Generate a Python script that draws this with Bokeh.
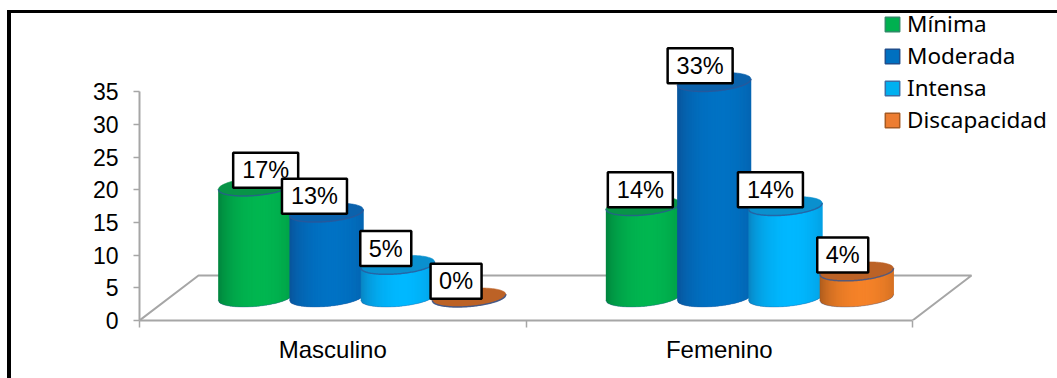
import numpy as np
from bokeh.core.properties import value
from bokeh.embed import file_html
from bokeh.models import (ColumnDataSource, FixedTicker, InlineStyleSheet, Legend,
                          LegendItem, Range1d)
from bokeh.plotting import figure
from bokeh.resources import INLINE

# Data
categories = ["Masculino", "Femenino"]
levels = ["Mínima", "Moderada", "Intensa", "Discapacidad"]
masculino = [17, 13, 5, 0]
femenino = [14, 33, 14, 4]
y_ticks = [0, 5, 10, 15, 20, 25, 30, 35]

# Series colours: side edge, side centre, cap, swatch, swatch outline
edge_colors = ["#00813C", "#0A5298", "#0A80BE", "#A8591C"]
mid_colors = ["#00B650", "#0072C4", "#00B8FF", "#F58228"]
cap_colors = ["#089447", "#0B62AC", "#0A90CE", "#BC6226"]
swatch_colors = ["#00B050", "#0070C0", "#00B0F0", "#ED7D31"]
swatch_lines = ["#2E8B67", "#1F4E8C", "#3A6EA5", "#A65A22"]

# Layout
W, H = 1057, 378
LEFT, BOTTOM = 139, 58
PX_X = 386.5  # pixels per category
PX_Y = 6.53   # pixels per axis unit
BASE = 23 / PX_Y          # lift of the cylinder bases above the front floor edge
GROUP_SHIFT = [0.076, 0.079]  # depth shift of each group to the right
BAR_STEP = 71.3 / PX_X
RX = 37.0 / PX_X          # cylinder half width
RY = 9.0 / PX_Y           # cap half height
TILT = 3.0 / PX_Y         # slant of the caps
FLOOR_DX, FLOOR_DY = 59 / PX_X, 45 / PX_Y
BOX_W2, BOX_W1, BOX_H = 65, 51, 35
TEXT_DY = 2.5             # label height above the cap, in axis units
LABEL_DX = [[10.5, -12, -12, -13], [-2.5, -14, -15, -14]]  # label shifts, pixels


def hex_rgb(c):
    return np.array([int(c[i:i + 2], 16) for i in (1, 3, 5)], dtype=float)


def mix(a, b, f):
    r = hex_rgb(a) * (1 - f) + hex_rgb(b) * f
    return "#%02x%02x%02x" % tuple(int(round(v)) for v in r)


# Black rule along the top and left of the page
frame_rule = InlineStyleSheet(css=""":host::after {
  content: ""; position: absolute; left: 7px; top: 10px; right: 0; bottom: 0;
  border-left: 4px solid #000; border-top: 3px solid #000; pointer-events: none;
}""")

p = figure(width=W, height=H, output_backend="svg", toolbar_location=None,
           x_range=Range1d(0, (W - LEFT) / PX_X),
           y_range=Range1d(0, (H - BOTTOM) / PX_Y),
           min_border_left=LEFT, min_border_bottom=BOTTOM, min_border_top=0,
           min_border_right=0, outline_line_color=None, background_fill_color="white",
           border_fill_color="white", stylesheets=[frame_rule])
p.grid.visible = False

# Value axis
p.yaxis.ticker = FixedTicker(ticks=y_ticks)
p.yaxis.bounds = (0, 35)
p.yaxis.axis_line_color = "#A6A6A6"
p.yaxis.axis_line_width = 2
p.yaxis.major_tick_line_color = "#A6A6A6"
p.yaxis.major_tick_line_width = 1.5
p.yaxis.major_tick_out = 6
p.yaxis.major_tick_in = 0
p.yaxis.minor_tick_line_color = None
p.yaxis.major_label_standoff = 15
p.yaxis.major_label_text_font = "Liberation Sans"
p.yaxis.major_label_text_font_size = "23px"
p.yaxis.major_label_text_color = "#000000"

# Category axis: labels mid-category, ticks on the category boundaries
p.xaxis.ticker = FixedTicker(ticks=[0.5, 1.5], minor_ticks=[0, 1, 2])
p.xaxis.major_label_overrides = {0.5: categories[0], 1.5: categories[1]}
p.xaxis.bounds = (0, 2)
p.xaxis.axis_line_color = "#A6A6A6"
p.xaxis.axis_line_width = 2
p.xaxis.major_tick_line_color = None
p.xaxis.minor_tick_line_color = "#A6A6A6"
p.xaxis.minor_tick_line_width = 1.5
p.xaxis.minor_tick_out = 7
p.xaxis.minor_tick_in = 0
p.xaxis.major_label_standoff = 8
p.xaxis.major_label_text_font = "Liberation Sans"
p.xaxis.major_label_text_font_size = "24px"
p.xaxis.major_label_text_color = "#000000"

# Floor of the 3D box
p.line([0, FLOOR_DX, 2 + FLOOR_DX, 2], [0, FLOOR_DY, FLOOR_DY, 0],
       line_color="#A6A6A6", line_width=2)

# Cylinders, drawn left to right so each overlaps its neighbour
ts = np.linspace(-1, 1, 61)
arc = np.sqrt(1 - ts ** 2)
boxes = {"x": [], "y": [], "w": [], "t": []}
for g, vals in enumerate([masculino, femenino]):
    for s, v in enumerate(vals):
        cx = g + 0.5 + GROUP_SHIFT[g] + (s - 1.5) * BAR_STEP
        top = BASE + v
        low = BASE + TILT * ts - RY * arc
        side_top = top + TILT * ts
        xs, ys, cols = [], [], []
        # Overlapping strips give the side its horizontal shading without seams
        for i in range(len(ts) - 1):
            j = min(i + 2, len(ts) - 1)
            tm = (ts[i] + ts[i + 1]) / 2
            f = max(0.0, 1 - ((tm - 0.15) / 1.15) ** 2) ** 0.7
            sx = cx + RX * ts[i:j + 1]
            xs.append(list(sx) + list(sx[::-1]))
            ys.append(list(side_top[i:j + 1]) + list(low[i:j + 1][::-1]))
            cols.append(mix(edge_colors[s], mid_colors[s], f))
        p.patches(xs, ys, fill_color=cols, line_color=None)
        # Cap
        upper = top + TILT * ts + RY * arc
        lower = top + TILT * ts - RY * arc
        cap_x = list(cx + RX * ts) + list(cx + RX * ts[::-1])
        cap_y = list(upper) + list(lower[::-1])
        p.patch(cap_x, cap_y, fill_color=cap_colors[s], line_color=cap_colors[s], line_width=0.6)
        p.line(cx + RX * ts, lower, line_color="#2F5597", line_alpha=0.75, line_width=1.5)
        p.line(cx + RX * ts, low, line_color="#2F5597", line_alpha=0.35, line_width=1)

        boxes["x"].append(cx + LABEL_DX[g][s] / PX_X)
        boxes["y"].append(top + TEXT_DY)
        boxes["w"].append(BOX_W2 if v >= 10 else BOX_W1)
        boxes["t"].append(f"{v}%")

# Value labels
src = ColumnDataSource(boxes)
p.rect("x", "y", width="w", width_units="screen", height=BOX_H, height_units="screen",
       source=src, fill_color="white", line_color="black", line_width=2.5)
p.text("x", "y", text="t", source=src, text_align="center", text_baseline="middle",
       text_font=value("Liberation Sans"), text_font_size="23.5px", text_color="black")

# Legend
items = []
for name, c, lc in zip(levels, swatch_colors, swatch_lines):
    r = p.quad(left=[np.nan], right=[np.nan], top=[np.nan], bottom=[np.nan],
               fill_color=c, line_color=lc, line_width=1.5)
    items.append(LegendItem(label=name, renderers=[r]))
legend = Legend(items=items, location=(744, 185), orientation="vertical",
                background_fill_alpha=0, border_line_color=None, padding=0, margin=0,
                spacing=1, glyph_width=18, glyph_height=18, label_standoff=6,
                label_text_font="Noto Sans", label_text_font_size="22.5px",
                label_text_color="#000000", label_height=30)
p.add_layout(legend)

open("out.html", "w").write(file_html(p, INLINE))
